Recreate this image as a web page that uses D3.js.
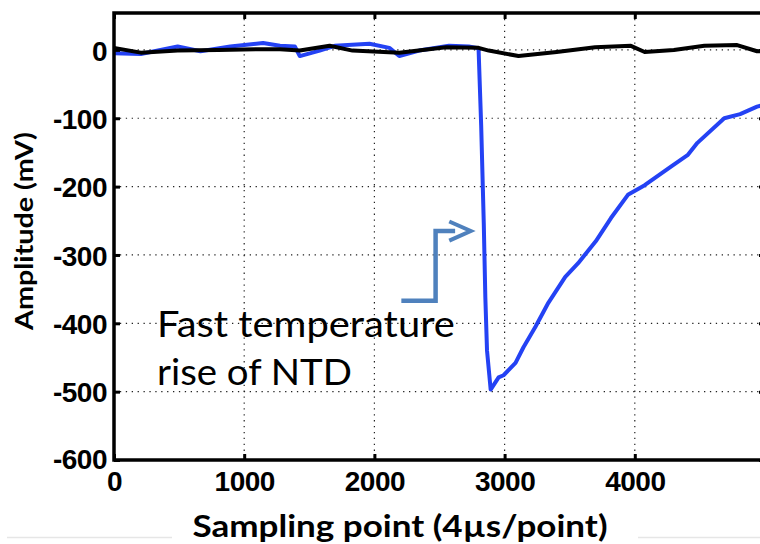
<!DOCTYPE html>
<html>
<head>
<meta charset="utf-8">
<script src="https://cdn.jsdelivr.net/npm/d3@7"></script>
<style>
  html, body { margin: 0; padding: 0; background: #fff; }
  svg { display: block; }
</style>
</head>
<body>
<svg id="chart" width="760" height="544"></svg>
<script>
// ---- data ----
const blueX = [0, 206, 489, 664, 893, 1145, 1275, 1389, 1427, 1580, 1695, 1962, 2115, 2191, 2344, 2573, 2725, 2786, 2800,
  2820, 2840, 2852, 2865, 2893, 2954, 2992, 3084, 3145, 3237, 3336, 3466, 3565, 3700, 3817, 3947, 4076, 4275, 4405, 4481, 4687, 4809, 4939, 5000];
const blueY = [-5, -6, 5, -2, 5, 10, 6, 5, -9, -1, 6, 9, 3, -9, -1, 6, 5, 3, 2,
  -110, -253, -362, -440, -497, -479, -476, -458, -435, -405, -370, -332, -312, -280, -246, -212, -198, -171, -154, -136, -100, -94, -83, -80];

const blackX = [0, 206, 489, 800, 1145, 1275, 1427, 1656, 1832, 2191, 2550, 2800, 2878, 3107, 3400, 3695, 3970, 4076, 4300, 4534, 4786, 4939, 5000];
const blackY = [3, -4, -1, 0, 1, 1, -1, 6, -1, -4, 4, 3, -1, -9, -3, 4, 6, -3, 0, 6, 7, -2, -2];

const xTicks = [0, 1000, 2000, 3000, 4000];
const yTicks = [0, -100, -200, -300, -400, -500, -600];
const xDomain = [0, 5000];
const yDomain = [-600, 54];

const xTitle = "Sampling point (4\u00b5s/point)";
const yTitle = "Amplitude (mV)";
const noteLines = ["Fast temperature", "rise of NTD"];
// annotation anchor points in data space
const noteX = [330, 330];
const noteY = [-420, -490];
const arrowX = [2207, 2470, 2470, 2620];
const arrowY = [-367, -367, -265, -265];
const headX = [2575, 2740, 2575];
const headY = [-251, -265, -279];

// ---- drawing ----
const svg = d3.select("#chart");
const L = 114, R = 765, T = 13, B = 460;
const x = d3.scaleLinear().domain(xDomain).range([L, R]);
const y = d3.scaleLinear().domain(yDomain).range([B, T]);
const fmt = d => String(d);

// faint artifact lines at bottom
svg.append("line").attr("x1", 7).attr("x2", 172).attr("y1", 537.5).attr("y2", 537.5)
  .attr("stroke", "#e6e6e6").attr("stroke-width", 1.5);
svg.append("line").attr("x1", 638).attr("x2", 760).attr("y1", 537.5).attr("y2", 537.5)
  .attr("stroke", "#e6e6e6").attr("stroke-width", 1.5);

// grid
const grid = svg.append("g");
grid.selectAll(".gx").data(xTicks.filter(d => d > xDomain[0])).enter().append("line")
  .attr("x1", d => x(d)).attr("x2", d => x(d)).attr("y1", T).attr("y2", B)
  .attr("stroke", "#222").attr("stroke-width", 1.2).attr("stroke-dasharray", "1.3,4.6");
grid.selectAll(".gy").data(yTicks.filter(d => d > yDomain[0])).enter().append("line")
  .attr("y1", d => y(d)).attr("y2", d => y(d)).attr("x1", L).attr("x2", R)
  .attr("stroke", "#222").attr("stroke-width", 1.2).attr("stroke-dasharray", "1.3,4.6");

// clip
svg.append("clipPath").attr("id", "clip").append("rect")
  .attr("x", L).attr("y", T).attr("width", R - L).attr("height", B - T);

const line = d3.line().x(d => x(d[0])).y(d => y(d[1]));
const plot = svg.append("g").attr("clip-path", "url(#clip)");
plot.append("path").datum(d3.zip(blueX, blueY)).attr("d", line)
  .attr("fill", "none").attr("stroke", "#2442f4").attr("stroke-width", 4).attr("stroke-linejoin", "round");
plot.append("path").datum(d3.zip(blackX, blackY)).attr("d", line)
  .attr("fill", "none").attr("stroke", "#000").attr("stroke-width", 4).attr("stroke-linejoin", "round");

// axes (inward ticks on all sides)
const tickLen = 6;
const axB = svg.append("g").attr("transform", `translate(0,${B})`)
  .call(d3.axisBottom(x).tickValues(xTicks).tickSizeInner(-tickLen).tickSizeOuter(0).tickFormat(fmt));
const axT = svg.append("g").attr("transform", `translate(0,${T})`)
  .call(d3.axisTop(x).tickValues(xTicks).tickSizeInner(-tickLen).tickSizeOuter(0).tickFormat(""));
const axL = svg.append("g").attr("transform", `translate(${L},0)`)
  .call(d3.axisLeft(y).tickValues(yTicks).tickSizeInner(-tickLen).tickSizeOuter(0).tickFormat(fmt));
const axR = svg.append("g").attr("transform", `translate(${R},0)`)
  .call(d3.axisRight(y).tickValues(yTicks).tickSizeInner(-tickLen).tickSizeOuter(0).tickFormat(""));

[axB, axT, axL, axR].forEach(a => {
  a.attr("font-family", "'Liberation Sans', Arial, sans-serif").attr("font-size", 28).attr("font-weight", "bold");
  a.select(".domain").remove();
  a.selectAll(".tick line").attr("stroke", "#000").attr("stroke-width", 3);
});
axB.selectAll(".tick text").attr("fill", "#000").attr("dy", null).attr("y", 31).attr("letter-spacing", -0.5);
axL.selectAll(".tick text").attr("fill", "#000").attr("x", -7).attr("dy", "0.36em").attr("letter-spacing", -0.5);
axL.selectAll(".tick").filter(d => d === -600).select("text").attr("transform", "translate(0,-2)");

// frame
svg.append("rect").attr("x", L).attr("y", T).attr("width", R - L).attr("height", B - T)
  .attr("fill", "none").attr("stroke", "#000").attr("stroke-width", 3.5);

// titles
svg.append("text").attr("x", 400).attr("y", 537).attr("text-anchor", "middle")
  .attr("font-family", "Lato, 'Open Sans', sans-serif").attr("font-weight", "bold").attr("font-size", 31)
  .attr("textLength", 415).attr("lengthAdjust", "spacingAndGlyphs").attr("fill", "#000").text(xTitle);
svg.append("text").attr("transform", "translate(33,231) rotate(-90)").attr("text-anchor", "middle")
  .attr("font-family", "Lato, 'Open Sans', sans-serif").attr("font-weight", "bold").attr("font-size", 24)
  .attr("textLength", 198).attr("lengthAdjust", "spacingAndGlyphs").attr("fill", "#000").text(yTitle);

// annotation
const note = svg.append("g");
noteLines.forEach((t, i) => {
  note.append("text").attr("x", x(noteX[i])).attr("y", y(noteY[i]))
    .attr("font-family", "Lato, 'Open Sans', sans-serif").attr("font-size", 36).attr("fill", "#000")
    .attr("textLength", i === 0 ? 298 : 195).attr("lengthAdjust", "spacingAndGlyphs").text(t);
});
const plain = d3.line().x(d => x(d[0])).y(d => y(d[1]));
note.append("path").datum(d3.zip(arrowX, arrowY)).attr("d", plain)
  .attr("fill", "none").attr("stroke", "#4f81bd").attr("stroke-width", 4.5).attr("stroke-linejoin", "miter");
note.append("path").datum(d3.zip(headX, headY)).attr("d", plain)
  .attr("fill", "none").attr("stroke", "#4f81bd").attr("stroke-width", 4).attr("stroke-linejoin", "miter");
</script>
</body>
</html>
